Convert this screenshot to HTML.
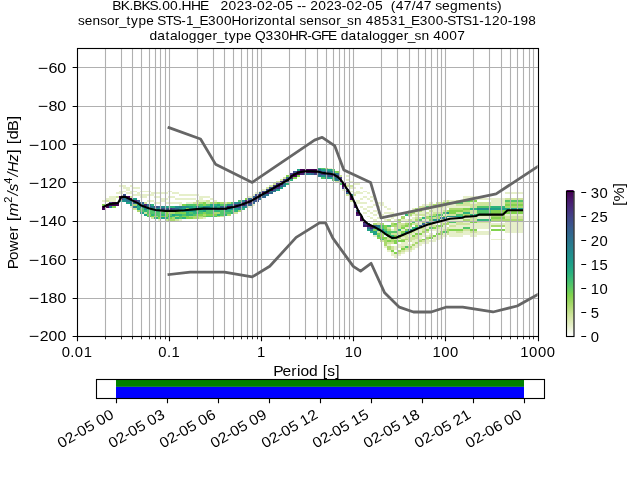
<!DOCTYPE html>
<html><head><meta charset="utf-8"><title>PPSD BK.BKS.00.HHE</title>
<style>html,body{margin:0;padding:0;background:#fff;}body{width:640px;height:480px;overflow:hidden;font-family:"Liberation Sans",sans-serif;}svg{display:block;will-change:transform;}</style></head>
<body>
<svg width="640" height="480" viewBox="0 0 640 480" font-family="'Liberation Sans', sans-serif" fill="#000">
<rect x="0" y="0" width="640" height="480" fill="#fff"/>
<g shape-rendering="crispEdges"><path fill="#440154" d="M102 208h4v2h-4zM102 206h4v2h-4zM106 206h3v2h-3zM106 204h3v2h-3zM109 204h3v2h-3zM112 204h4v2h-4zM112 202h4v2h-4zM116 204h3v2h-3zM116 202h3v2h-3zM119 196h4v2h-4zM123 196h3v2h-3zM126 196h4v2h-4zM130 198h3v2h-3zM259 194h3v2h-3zM262 192h4v2h-4zM269 189h4v2h-4zM280 183h3v2h-3zM283 181h3v2h-3zM286 179h4v2h-4zM290 175h3v2h-3zM293 173h4v2h-4zM297 173h3v2h-3zM297 171h3v2h-3zM300 171h4v2h-4zM300 169h4v2h-4zM304 171h3v2h-3zM304 169h3v2h-3zM307 171h4v2h-4zM307 169h4v2h-4zM311 171h3v2h-3zM311 169h3v2h-3zM314 171h4v2h-4zM314 169h4v2h-4zM339 179h3v2h-3zM342 185h4v2h-4zM346 191h3v1h-3zM349 198h4v2h-4zM349 196h4v2h-4zM353 204h3v2h-3zM356 212h4v2h-4zM360 219h3v2h-3zM363 221h4v2h-4zM367 225h3v2h-3z"/><path fill="#81d34d" d="M102 204h4v2h-4zM112 206h4v2h-4zM147 214h4v2h-4zM151 216h3v1h-3zM158 217h3v2h-3zM161 216h4v1h-4zM165 216h3v1h-3zM165 214h3v2h-3zM165 212h3v2h-3zM168 217h4v2h-4zM175 212h4v2h-4zM179 212h3v2h-3zM182 216h4v1h-4zM182 212h4v2h-4zM182 204h4v2h-4zM186 217h3v2h-3zM186 216h3v1h-3zM186 208h3v2h-3zM189 217h4v2h-4zM196 214h3v2h-3zM196 204h3v2h-3zM199 214h4v2h-4zM203 216h3v1h-3zM203 212h3v2h-3zM203 204h3v2h-3zM203 202h3v2h-3zM206 214h4v2h-4zM210 214h3v2h-3zM213 214h4v2h-4zM217 202h3v2h-3zM245 198h3v2h-3zM286 175h4v2h-4zM293 177h4v2h-4zM297 175h3v2h-3zM335 171h4v2h-4zM373 229h4v2h-4zM377 237h3v2h-3zM377 233h3v2h-3zM380 237h4v2h-4zM384 237h3v2h-3zM384 227h3v2h-3zM384 225h3v2h-3zM387 240h4v2h-4zM391 250h3v2h-3zM394 252h4v2h-4zM394 242h4v2h-4zM394 240h4v2h-4zM394 235h4v2h-4zM394 223h4v2h-4zM398 240h3v2h-3zM401 248h4v2h-4zM401 240h4v2h-4zM401 231h4v2h-4zM401 227h4v2h-4zM405 229h3v2h-3zM405 225h3v2h-3zM408 231h4v2h-4zM408 223h4v2h-4zM412 235h3v2h-3zM412 210h3v2h-3zM415 233h4v2h-4zM415 225h4v2h-4zM419 233h3v2h-3zM422 239h4v1h-4zM426 229h3v2h-3zM429 237h4v2h-4zM429 219h4v2h-4zM433 235h3v2h-3zM433 227h3v2h-3zM433 221h3v2h-3zM436 233h4v2h-4zM436 225h4v2h-4zM440 225h3v2h-3zM443 216h4v1h-4zM447 202h2v2h-2zM449 229h7v2h-7zM449 212h7v2h-7zM449 210h7v2h-7zM456 229h7v2h-7zM456 210h7v2h-7zM463 208h7v2h-7zM470 229h7v2h-7zM470 221h7v2h-7zM470 200h7v2h-7zM477 214h14v2h-14zM491 229h14v2h-14zM491 217h14v2h-14zM491 212h14v2h-14zM491 210h14v2h-14zM505 212h18v2h-18zM505 210h18v2h-18zM505 204h18v2h-18z"/><path fill="#e6efca" d="M102 200h4v2h-4zM106 198h3v2h-3zM109 200h3v2h-3zM109 198h3v2h-3zM109 196h3v2h-3zM112 200h4v2h-4zM112 198h4v2h-4zM112 196h4v2h-4zM116 192h3v2h-3zM119 192h4v2h-4zM119 191h4v1h-4zM119 185h4v2h-4zM123 191h3v1h-3zM123 187h3v2h-3zM123 185h3v2h-3zM126 192h4v2h-4zM126 189h4v2h-4zM126 187h4v2h-4zM130 206h3v2h-3zM130 192h3v2h-3zM130 191h3v1h-3zM130 185h3v2h-3zM133 194h4v2h-4zM133 191h4v1h-4zM133 187h4v2h-4zM137 194h3v2h-3zM137 192h3v2h-3zM137 187h3v2h-3zM140 196h4v2h-4zM140 194h4v2h-4zM140 191h4v1h-4zM144 196h3v2h-3zM144 194h3v2h-3zM144 191h3v1h-3zM147 200h4v2h-4zM147 194h4v2h-4zM147 191h4v1h-4zM151 200h3v2h-3zM151 194h3v2h-3zM151 192h3v2h-3zM154 202h4v2h-4zM154 196h4v2h-4zM154 192h4v2h-4zM158 219h3v2h-3zM158 202h3v2h-3zM158 196h3v2h-3zM158 192h3v2h-3zM161 200h4v2h-4zM161 198h4v2h-4zM161 192h4v2h-4zM165 202h3v2h-3zM165 198h3v2h-3zM165 192h3v2h-3zM168 202h4v2h-4zM168 196h4v2h-4zM168 191h4v1h-4zM172 202h3v2h-3zM172 196h3v2h-3zM172 192h3v2h-3zM175 202h4v2h-4zM175 198h4v2h-4zM175 192h4v2h-4zM179 219h3v2h-3zM179 204h3v2h-3zM179 202h3v2h-3zM179 198h3v2h-3zM179 194h3v2h-3zM182 198h4v2h-4zM182 194h4v2h-4zM186 202h3v2h-3zM186 198h3v2h-3zM186 194h3v2h-3zM189 202h4v2h-4zM189 198h4v2h-4zM189 194h4v2h-4zM193 198h3v2h-3zM193 194h3v2h-3zM196 194h3v2h-3zM199 200h4v2h-4zM199 198h4v2h-4zM199 196h4v2h-4zM203 217h3v2h-3zM203 200h3v2h-3zM203 196h3v2h-3zM206 196h4v2h-4zM210 198h3v2h-3zM213 200h4v2h-4zM248 206h4v2h-4zM248 196h4v2h-4zM252 204h3v2h-3zM252 194h3v2h-3zM255 192h4v2h-4zM259 191h3v1h-3zM262 189h4v2h-4zM328 168h4v1h-4zM342 189h4v2h-4zM346 183h3v2h-3zM346 179h3v2h-3zM346 175h3v2h-3zM349 191h4v1h-4zM349 187h4v2h-4zM349 181h4v2h-4zM353 192h3v2h-3zM353 187h3v2h-3zM353 183h3v2h-3zM356 202h4v2h-4zM356 200h4v2h-4zM356 192h4v2h-4zM356 191h4v1h-4zM356 183h4v2h-4zM360 206h3v2h-3zM360 202h3v2h-3zM360 198h3v2h-3zM360 192h3v2h-3zM360 187h3v2h-3zM363 212h4v2h-4zM363 208h4v2h-4zM363 202h4v2h-4zM363 196h4v2h-4zM363 191h4v1h-4zM367 216h3v1h-3zM367 210h3v2h-3zM367 206h3v2h-3zM367 198h3v2h-3zM367 192h3v2h-3zM370 217h3v2h-3zM370 212h3v2h-3zM370 206h3v2h-3zM370 200h3v2h-3zM370 196h3v2h-3zM373 235h4v2h-4zM373 219h4v2h-4zM373 214h4v2h-4zM373 210h4v2h-4zM373 204h4v2h-4zM373 198h4v2h-4zM377 221h3v2h-3zM377 217h3v2h-3zM377 212h3v2h-3zM377 206h3v2h-3zM377 202h3v2h-3zM380 217h4v2h-4zM380 214h4v2h-4zM380 204h4v2h-4zM380 202h4v2h-4zM384 246h3v2h-3zM384 219h3v2h-3zM384 216h3v1h-3zM384 212h3v2h-3zM384 206h3v2h-3zM387 250h4v2h-4zM387 244h4v2h-4zM387 212h4v2h-4zM387 208h4v2h-4zM391 254h3v2h-3zM391 252h3v2h-3zM391 229h3v2h-3zM391 221h3v2h-3zM391 217h3v2h-3zM391 212h3v2h-3zM394 256h4v2h-4zM394 254h4v2h-4zM394 248h4v2h-4zM394 246h4v2h-4zM394 219h4v2h-4zM394 216h4v1h-4zM398 254h3v2h-3zM398 246h3v2h-3zM398 244h3v2h-3zM398 239h3v1h-3zM401 252h4v2h-4zM401 244h4v2h-4zM401 242h4v2h-4zM401 237h4v2h-4zM401 229h4v2h-4zM401 219h4v2h-4zM405 250h3v2h-3zM405 244h3v2h-3zM405 242h3v2h-3zM405 240h3v2h-3zM405 233h3v2h-3zM405 227h3v2h-3zM405 221h3v2h-3zM405 219h3v2h-3zM408 250h4v2h-4zM408 244h4v2h-4zM408 235h4v2h-4zM408 227h4v2h-4zM408 221h4v2h-4zM408 216h4v1h-4zM408 210h4v2h-4zM412 248h3v2h-3zM412 246h3v2h-3zM412 242h3v2h-3zM412 240h3v2h-3zM412 233h3v2h-3zM412 219h3v2h-3zM412 217h3v2h-3zM412 214h3v2h-3zM412 208h3v2h-3zM415 246h4v2h-4zM415 244h4v2h-4zM415 240h4v2h-4zM415 239h4v1h-4zM415 231h4v2h-4zM415 221h4v2h-4zM415 216h4v1h-4zM415 212h4v2h-4zM419 244h3v2h-3zM419 242h3v2h-3zM419 237h3v2h-3zM419 235h3v2h-3zM419 231h3v2h-3zM419 229h3v2h-3zM419 223h3v2h-3zM419 221h3v2h-3zM419 212h3v2h-3zM422 242h4v2h-4zM422 235h4v2h-4zM422 233h4v2h-4zM422 225h4v2h-4zM422 219h4v2h-4zM422 216h4v1h-4zM422 212h4v2h-4zM422 210h4v2h-4zM422 204h4v2h-4zM426 242h3v2h-3zM426 240h3v2h-3zM426 235h3v2h-3zM426 227h3v2h-3zM426 225h3v2h-3zM426 219h3v2h-3zM426 214h3v2h-3zM426 204h3v2h-3zM429 240h4v2h-4zM429 233h4v2h-4zM429 229h4v2h-4zM429 212h4v2h-4zM429 208h4v2h-4zM429 202h4v2h-4zM433 240h3v2h-3zM433 239h3v1h-3zM433 237h3v2h-3zM433 229h3v2h-3zM433 223h3v2h-3zM433 210h3v2h-3zM433 208h3v2h-3zM436 239h4v1h-4zM436 237h4v2h-4zM436 235h4v2h-4zM436 231h4v2h-4zM436 229h4v2h-4zM436 210h4v2h-4zM436 208h4v2h-4zM440 237h3v2h-3zM440 235h3v2h-3zM440 229h3v2h-3zM440 227h3v2h-3zM440 219h3v2h-3zM440 216h3v1h-3zM440 210h3v2h-3zM440 208h3v2h-3zM443 235h4v2h-4zM443 233h4v2h-4zM443 227h4v2h-4zM443 225h4v2h-4zM443 221h4v2h-4zM443 214h4v2h-4zM443 208h4v2h-4zM443 206h4v2h-4zM443 200h4v2h-4zM447 219h2v2h-2zM447 217h2v2h-2zM447 206h2v2h-2zM447 204h2v2h-2zM449 235h7v2h-7zM449 233h7v2h-7zM449 231h7v2h-7zM449 227h7v2h-7zM449 223h7v2h-7zM449 219h7v2h-7zM449 217h7v2h-7zM449 206h7v2h-7zM449 204h7v2h-7zM449 200h7v2h-7zM456 235h7v2h-7zM456 233h7v2h-7zM456 227h7v2h-7zM456 225h7v2h-7zM456 219h7v2h-7zM456 217h7v2h-7zM456 206h7v2h-7zM463 233h7v2h-7zM463 231h7v2h-7zM463 225h7v2h-7zM463 221h7v2h-7zM463 217h7v2h-7zM463 206h7v2h-7zM463 198h7v2h-7zM463 196h7v2h-7zM470 235h7v2h-7zM470 233h7v2h-7zM470 227h7v2h-7zM470 225h7v2h-7zM470 223h7v2h-7zM470 216h7v1h-7zM470 202h7v2h-7zM470 198h7v2h-7zM470 196h7v2h-7zM477 233h14v2h-14zM477 231h14v2h-14zM477 227h14v2h-14zM477 225h14v2h-14zM477 223h14v2h-14zM477 217h14v2h-14zM477 216h14v1h-14zM477 198h14v2h-14zM491 239h14v1h-14zM491 223h14v2h-14zM491 204h14v2h-14zM491 202h14v2h-14zM491 200h14v2h-14zM491 198h14v2h-14zM505 231h18v2h-18zM505 229h18v2h-18zM505 227h18v2h-18zM505 225h18v2h-18zM505 223h18v2h-18zM505 221h18v2h-18zM505 214h18v2h-18zM505 192h18v2h-18z"/><path fill="#cfe49c" d="M106 200h3v2h-3zM116 196h3v2h-3zM130 196h3v2h-3zM133 208h4v2h-4zM144 212h3v2h-3zM144 202h3v2h-3zM151 217h3v2h-3zM165 219h3v2h-3zM175 219h4v2h-4zM193 202h3v2h-3zM196 202h3v2h-3zM196 200h3v2h-3zM199 217h4v2h-4zM206 202h4v2h-4zM206 200h4v2h-4zM220 216h4v1h-4zM224 202h3v2h-3zM234 212h4v2h-4zM266 187h3v2h-3zM269 185h4v2h-4zM273 183h3v2h-3zM276 181h4v2h-4zM280 179h3v2h-3zM283 177h3v2h-3zM335 181h4v2h-4zM339 175h3v2h-3zM346 194h3v2h-3zM346 185h3v2h-3zM349 200h4v2h-4zM349 185h4v2h-4zM353 194h3v2h-3zM377 231h3v2h-3zM377 223h3v2h-3zM380 240h4v2h-4zM387 242h4v2h-4zM387 239h4v1h-4zM387 237h4v2h-4zM387 227h4v2h-4zM387 219h4v2h-4zM391 248h3v2h-3zM391 246h3v2h-3zM391 242h3v2h-3zM391 233h3v2h-3zM394 239h4v1h-4zM394 233h4v2h-4zM394 229h4v2h-4zM394 227h4v2h-4zM398 252h3v2h-3zM398 233h3v2h-3zM398 231h3v2h-3zM398 227h3v2h-3zM398 225h3v2h-3zM398 223h3v2h-3zM401 250h4v2h-4zM401 246h4v2h-4zM401 235h4v2h-4zM401 223h4v2h-4zM405 248h3v2h-3zM405 237h3v2h-3zM405 235h3v2h-3zM408 248h4v2h-4zM408 240h4v2h-4zM408 239h4v1h-4zM408 237h4v2h-4zM408 233h4v2h-4zM408 219h4v2h-4zM412 239h3v1h-3zM412 237h3v2h-3zM412 231h3v2h-3zM412 223h3v2h-3zM415 237h4v2h-4zM415 235h4v2h-4zM415 229h4v2h-4zM415 223h4v2h-4zM415 217h4v2h-4zM415 214h4v2h-4zM419 239h3v1h-3zM419 217h3v2h-3zM419 214h3v2h-3zM419 208h3v2h-3zM419 206h3v2h-3zM422 240h4v2h-4zM422 229h4v2h-4zM422 227h4v2h-4zM422 214h4v2h-4zM422 208h4v2h-4zM422 206h4v2h-4zM426 239h3v1h-3zM426 231h3v2h-3zM426 212h3v2h-3zM426 208h3v2h-3zM429 235h4v2h-4zM429 225h4v2h-4zM429 223h4v2h-4zM429 214h4v2h-4zM429 210h4v2h-4zM429 206h4v2h-4zM429 204h4v2h-4zM433 225h3v2h-3zM433 217h3v2h-3zM433 212h3v2h-3zM436 227h4v2h-4zM436 221h4v2h-4zM436 212h4v2h-4zM436 206h4v2h-4zM436 202h4v2h-4zM440 223h3v2h-3zM440 221h3v2h-3zM440 212h3v2h-3zM440 206h3v2h-3zM440 202h3v2h-3zM443 229h4v2h-4zM443 219h4v2h-4zM443 210h4v2h-4zM447 233h2v2h-2zM447 227h2v2h-2zM447 214h2v2h-2zM447 200h2v2h-2zM449 225h7v2h-7zM449 214h7v2h-7zM456 231h7v2h-7zM456 223h7v2h-7zM456 221h7v2h-7zM456 212h7v2h-7zM456 204h7v2h-7zM456 200h7v2h-7zM463 229h7v2h-7zM463 223h7v2h-7zM463 216h7v1h-7zM463 204h7v2h-7zM463 202h7v2h-7zM470 231h7v2h-7zM470 219h7v2h-7zM470 217h7v2h-7zM470 212h7v2h-7zM470 210h7v2h-7zM470 206h7v2h-7zM470 204h7v2h-7zM477 221h14v2h-14zM477 204h14v2h-14zM477 202h14v2h-14zM505 217h18v2h-18zM505 216h18v1h-18zM505 198h18v2h-18z"/><path fill="#297a8e" d="M109 206h3v2h-3zM123 198h3v2h-3zM126 200h4v2h-4zM130 202h3v2h-3zM130 200h3v2h-3zM133 206h4v2h-4zM140 204h4v2h-4zM147 204h4v2h-4zM151 206h3v2h-3zM179 206h3v2h-3zM196 206h3v2h-3zM224 206h3v2h-3zM231 204h3v2h-3zM238 202h3v2h-3zM259 198h3v2h-3zM266 194h3v2h-3zM269 191h4v1h-4zM273 191h3v1h-3zM283 183h3v2h-3zM304 173h3v2h-3zM307 173h4v2h-4zM318 175h3v2h-3zM325 175h3v2h-3zM328 171h4v2h-4zM335 179h4v2h-4zM335 173h4v2h-4zM370 229h3v2h-3zM377 225h3v2h-3zM398 235h3v2h-3zM440 217h3v2h-3zM443 217h4v2h-4z"/><path fill="#443a83" d="M109 202h3v2h-3zM119 198h4v2h-4zM168 208h4v2h-4zM217 208h3v2h-3zM220 208h4v2h-4zM234 206h4v2h-4zM234 204h4v2h-4zM241 202h4v2h-4zM248 202h4v2h-4zM255 198h4v2h-4zM255 196h4v2h-4zM259 196h3v2h-3zM266 191h3v1h-3zM273 185h3v2h-3zM276 187h4v2h-4zM276 183h4v2h-4zM280 181h3v2h-3zM283 179h3v2h-3zM290 173h3v2h-3zM314 173h4v2h-4zM318 171h3v2h-3zM321 173h4v2h-4zM328 173h4v2h-4zM332 175h3v2h-3zM339 177h3v2h-3zM342 187h4v2h-4zM353 202h3v2h-3zM363 223h4v2h-4z"/><path fill="#1fa188" d="M119 200h4v2h-4zM126 202h4v2h-4zM130 204h3v2h-3zM133 198h4v2h-4zM137 208h3v2h-3zM137 204h3v2h-3zM140 212h4v2h-4zM144 214h3v2h-3zM151 208h3v2h-3zM161 217h4v2h-4zM165 210h3v2h-3zM165 206h3v2h-3zM172 214h3v2h-3zM182 210h4v2h-4zM182 208h4v2h-4zM186 210h3v2h-3zM189 210h4v2h-4zM189 208h4v2h-4zM189 206h4v2h-4zM193 210h3v2h-3zM203 210h3v2h-3zM210 206h3v2h-3zM210 204h3v2h-3zM217 204h3v2h-3zM234 208h4v2h-4zM276 189h4v2h-4zM280 187h3v2h-3zM297 169h3v2h-3zM321 169h4v2h-4zM325 177h3v2h-3zM325 169h3v2h-3zM328 177h4v2h-4zM328 169h4v2h-4zM367 229h3v2h-3zM367 223h3v2h-3zM373 233h4v2h-4zM373 231h4v2h-4zM384 231h3v2h-3zM415 227h4v2h-4zM456 216h7v1h-7zM491 208h14v2h-14zM505 208h18v2h-18z"/><path fill="#218e8d" d="M123 200h3v2h-3zM140 206h4v2h-4zM144 208h3v2h-3zM154 208h4v2h-4zM158 208h3v2h-3zM161 206h4v2h-4zM175 206h4v2h-4zM179 208h3v2h-3zM182 206h4v2h-4zM186 206h3v2h-3zM193 208h3v2h-3zM196 208h3v2h-3zM203 206h3v2h-3zM206 206h4v2h-4zM213 206h4v2h-4zM227 208h4v2h-4zM227 204h4v2h-4zM231 208h3v2h-3zM234 202h4v2h-4zM238 208h3v2h-3zM241 206h4v2h-4zM241 200h4v2h-4zM245 206h3v2h-3zM283 185h3v2h-3zM321 175h4v2h-4zM332 171h3v2h-3zM349 194h4v2h-4zM377 229h3v2h-3zM377 227h3v2h-3zM380 229h4v2h-4zM405 231h3v2h-3zM408 229h4v2h-4zM433 219h3v2h-3zM436 219h4v2h-4zM447 216h2v1h-2zM447 212h2v2h-2zM449 216h7v1h-7zM477 208h14v2h-14z"/><path fill="#3b518b" d="M123 194h3v2h-3zM137 200h3v2h-3zM154 206h4v2h-4zM161 208h4v2h-4zM172 208h3v2h-3zM213 208h4v2h-4zM238 206h3v2h-3zM238 204h3v2h-3zM245 204h3v2h-3zM245 202h3v2h-3zM252 200h3v2h-3zM255 200h4v2h-4zM255 194h4v2h-4zM262 191h4v1h-4zM266 189h3v2h-3zM269 187h4v2h-4zM273 189h3v2h-3zM280 185h3v2h-3zM293 171h4v2h-4zM325 173h3v2h-3zM328 175h4v2h-4zM332 173h3v2h-3z"/><path fill="#31678e" d="M126 198h4v2h-4zM133 202h4v2h-4zM137 202h3v2h-3zM140 202h4v2h-4zM147 206h4v2h-4zM158 206h3v2h-3zM165 208h3v2h-3zM175 208h4v2h-4zM199 208h4v2h-4zM203 208h3v2h-3zM206 208h4v2h-4zM210 208h3v2h-3zM220 206h4v2h-4zM248 204h4v2h-4zM248 198h4v2h-4zM252 202h3v2h-3zM252 196h3v2h-3zM259 192h3v2h-3zM262 196h4v2h-4zM262 194h4v2h-4zM269 192h4v2h-4zM286 181h4v2h-4zM286 177h4v2h-4zM311 173h3v2h-3zM318 173h3v2h-3zM318 169h3v2h-3zM321 171h4v2h-4zM325 171h3v2h-3zM335 177h4v2h-4zM346 192h3v2h-3zM346 189h3v2h-3zM356 210h4v2h-4zM367 227h3v2h-3zM373 227h4v2h-4zM373 225h4v2h-4zM419 225h3v2h-3zM422 223h4v2h-4zM426 221h3v2h-3z"/><path fill="#aad96e" d="M133 204h4v2h-4zM137 210h3v2h-3zM154 216h4v1h-4zM161 210h4v2h-4zM168 219h4v2h-4zM168 212h4v2h-4zM172 219h3v2h-3zM172 217h3v2h-3zM172 212h3v2h-3zM175 216h4v1h-4zM189 216h4v1h-4zM193 217h3v2h-3zM193 216h3v1h-3zM196 217h3v2h-3zM196 216h3v1h-3zM199 216h4v1h-4zM199 202h4v2h-4zM203 214h3v2h-3zM210 202h3v2h-3zM213 212h4v2h-4zM213 202h4v2h-4zM217 216h3v1h-3zM217 212h3v2h-3zM220 202h4v2h-4zM227 214h4v2h-4zM227 202h4v2h-4zM238 210h3v2h-3zM325 168h3v1h-3zM373 223h4v2h-4zM380 235h4v2h-4zM380 233h4v2h-4zM380 223h4v2h-4zM384 244h3v2h-3zM384 242h3v2h-3zM384 240h3v2h-3zM384 239h3v1h-3zM387 248h4v2h-4zM387 246h4v2h-4zM387 229h4v2h-4zM391 240h3v2h-3zM391 239h3v1h-3zM391 225h3v2h-3zM391 223h3v2h-3zM394 225h4v2h-4zM398 250h3v2h-3zM398 237h3v2h-3zM398 221h3v2h-3zM398 219h3v2h-3zM401 239h4v1h-4zM401 225h4v2h-4zM401 217h4v2h-4zM401 216h4v1h-4zM405 239h3v1h-3zM405 223h3v2h-3zM408 246h4v2h-4zM408 225h4v2h-4zM408 214h4v2h-4zM408 212h4v2h-4zM412 244h3v2h-3zM412 212h3v2h-3zM415 242h4v2h-4zM415 219h4v2h-4zM415 210h4v2h-4zM415 208h4v2h-4zM419 240h3v2h-3zM419 227h3v2h-3zM419 210h3v2h-3zM422 231h4v2h-4zM422 221h4v2h-4zM426 237h3v2h-3zM426 223h3v2h-3zM426 217h3v2h-3zM426 216h3v1h-3zM429 217h4v2h-4zM433 214h3v2h-3zM433 206h3v2h-3zM433 204h3v2h-3zM436 217h4v2h-4zM436 216h4v1h-4zM436 204h4v2h-4zM440 233h3v2h-3zM440 231h3v2h-3zM443 223h4v2h-4zM443 204h4v2h-4zM443 202h4v2h-4zM447 231h2v2h-2zM447 229h2v2h-2zM447 223h2v2h-2zM447 221h2v2h-2zM447 210h2v2h-2zM449 208h7v2h-7zM456 208h7v2h-7zM463 219h7v2h-7zM463 214h7v2h-7zM463 210h7v2h-7zM491 225h14v2h-14zM491 219h14v2h-14zM491 216h14v1h-14zM491 214h14v2h-14zM505 219h18v2h-18zM505 206h18v2h-18zM505 202h18v2h-18z"/><path fill="#482071" d="M133 200h4v2h-4zM144 204h3v2h-3zM241 204h4v2h-4zM245 200h3v2h-3zM248 200h4v2h-4zM266 192h3v2h-3zM273 187h3v2h-3zM290 177h3v2h-3zM300 173h4v2h-4zM335 175h4v2h-4zM339 181h3v2h-3zM353 206h3v2h-3zM356 214h4v2h-4zM360 216h3v1h-3zM363 225h4v2h-4zM370 227h3v2h-3z"/><path fill="#2fb47c" d="M137 206h3v2h-3zM144 210h3v2h-3zM144 206h3v2h-3zM147 208h4v2h-4zM151 214h3v2h-3zM151 204h3v2h-3zM154 217h4v2h-4zM154 210h4v2h-4zM158 210h3v2h-3zM161 214h4v2h-4zM165 217h3v2h-3zM168 216h4v1h-4zM168 206h4v2h-4zM172 210h3v2h-3zM172 206h3v2h-3zM175 217h4v2h-4zM175 214h4v2h-4zM179 214h3v2h-3zM182 217h4v2h-4zM186 214h3v2h-3zM186 212h3v2h-3zM189 214h4v2h-4zM193 212h3v2h-3zM193 206h3v2h-3zM196 212h3v2h-3zM199 210h4v2h-4zM199 206h4v2h-4zM213 210h4v2h-4zM213 204h4v2h-4zM217 214h3v2h-3zM217 210h3v2h-3zM217 206h3v2h-3zM224 214h3v2h-3zM224 210h3v2h-3zM227 210h4v2h-4zM231 212h3v2h-3zM234 210h4v2h-4zM241 208h4v2h-4zM286 183h4v2h-4zM290 179h3v2h-3zM318 168h3v1h-3zM332 177h3v2h-3zM370 231h3v2h-3zM384 233h3v2h-3zM391 237h3v2h-3zM391 235h3v2h-3zM398 229h3v2h-3zM405 214h3v2h-3zM412 227h3v2h-3zM422 217h4v2h-4zM429 221h4v2h-4zM463 212h7v2h-7zM470 214h7v2h-7zM470 208h7v2h-7zM477 219h14v2h-14zM491 206h14v2h-14z"/><path fill="#52c569" d="M140 210h4v2h-4zM140 208h4v2h-4zM147 216h4v1h-4zM147 212h4v2h-4zM147 210h4v2h-4zM151 212h3v2h-3zM151 210h3v2h-3zM154 214h4v2h-4zM154 212h4v2h-4zM158 216h3v1h-3zM158 214h3v2h-3zM158 212h3v2h-3zM161 212h4v2h-4zM168 214h4v2h-4zM168 210h4v2h-4zM172 216h3v1h-3zM175 210h4v2h-4zM179 217h3v2h-3zM179 216h3v1h-3zM179 210h3v2h-3zM182 214h4v2h-4zM186 204h3v2h-3zM189 212h4v2h-4zM189 204h4v2h-4zM193 214h3v2h-3zM193 204h3v2h-3zM196 210h3v2h-3zM199 212h4v2h-4zM199 204h4v2h-4zM206 216h4v1h-4zM206 212h4v2h-4zM206 210h4v2h-4zM206 204h4v2h-4zM210 216h3v1h-3zM210 212h3v2h-3zM210 210h3v2h-3zM213 216h4v1h-4zM220 214h4v2h-4zM220 212h4v2h-4zM220 210h4v2h-4zM220 204h4v2h-4zM224 212h3v2h-3zM224 204h3v2h-3zM227 212h4v2h-4zM231 210h3v2h-3zM231 202h3v2h-3zM238 200h3v2h-3zM321 177h4v2h-4zM321 168h4v1h-4zM332 179h3v2h-3zM332 169h3v2h-3zM339 183h3v2h-3zM377 235h3v2h-3zM380 239h4v1h-4zM380 231h4v2h-4zM380 227h4v2h-4zM380 225h4v2h-4zM384 229h3v2h-3zM387 235h4v2h-4zM387 233h4v2h-4zM387 231h4v2h-4zM387 225h4v2h-4zM391 231h3v2h-3zM394 237h4v2h-4zM394 231h4v2h-4zM401 233h4v2h-4zM405 246h3v2h-3zM412 229h3v2h-3zM412 221h3v2h-3zM419 219h3v2h-3zM426 206h3v2h-3zM429 227h4v2h-4zM429 216h4v1h-4zM433 216h3v1h-3zM436 214h4v2h-4zM440 214h3v2h-3zM440 204h3v2h-3zM443 231h4v2h-4zM443 212h4v2h-4zM449 221h7v2h-7zM449 202h7v2h-7zM456 214h7v2h-7zM456 202h7v2h-7zM463 227h7v2h-7zM463 200h7v2h-7zM477 212h14v2h-14zM477 210h14v2h-14zM477 206h14v2h-14zM505 200h18v2h-18z"/><path fill="#450457" d="M224 208h3v2h-3zM227 206h4v2h-4zM231 206h3v2h-3zM252 198h3v2h-3zM276 185h4v2h-4zM293 175h4v2h-4zM342 183h4v2h-4zM360 217h3v2h-3zM370 225h3v2h-3z"/></g>
<path d="M105.5 48.5V336.5M121.5 48.5V336.5M132.5 48.5V336.5M141.5 48.5V336.5M149.5 48.5V336.5M155.5 48.5V336.5M160.5 48.5V336.5M165.5 48.5V336.5M169.5 48.5V336.5M197.5 48.5V336.5M213.5 48.5V336.5M224.5 48.5V336.5M233.5 48.5V336.5M241.5 48.5V336.5M247.5 48.5V336.5M252.5 48.5V336.5M257.5 48.5V336.5M261.5 48.5V336.5M289.5 48.5V336.5M305.5 48.5V336.5M317.5 48.5V336.5M326.5 48.5V336.5M333.5 48.5V336.5M339.5 48.5V336.5M344.5 48.5V336.5M349.5 48.5V336.5M353.5 48.5V336.5M381.5 48.5V336.5M397.5 48.5V336.5M409.5 48.5V336.5M418.5 48.5V336.5M425.5 48.5V336.5M431.5 48.5V336.5M437.5 48.5V336.5M441.5 48.5V336.5M445.5 48.5V336.5M473.5 48.5V336.5M489.5 48.5V336.5M501.5 48.5V336.5M510.5 48.5V336.5M517.5 48.5V336.5M523.5 48.5V336.5M529.5 48.5V336.5M533.5 48.5V336.5M77.5 298.5H538.5M77.5 259.5H538.5M77.5 221.5H538.5M77.5 182.5H538.5M77.5 144.5H538.5M77.5 106.5H538.5M77.5 67.5H538.5" stroke="#b0b0b0" stroke-width="1.11" fill="none"/>
<clipPath id="c"><rect x="76.8" y="48" width="460.8" height="288"/></clipPath>
<g clip-path="url(#c)" fill="none" stroke-linejoin="round" stroke-linecap="square">
<polyline points="168.96,127.68 200.52,139.02 215.51,164.16 252.19,182.40 314.55,140.16 322.20,137.28 334.79,145.92 343.85,169.91 370.56,182.40 381.02,217.91 496.13,193.93 537.60,166.60" stroke="#666666" stroke-width="2.78"/>
<polyline points="168.96,274.56 190.20,272.06 224.45,272.06 252.19,276.87 269.73,266.30 296.16,237.40 319.50,222.91 325.54,222.90 332.83,238.08 353.28,266.40 360.58,271.19 371.08,263.29 384.66,292.81 399.33,307.19 413.48,312.00 431.16,312.00 445.84,307.20 462.72,307.18 492.98,311.98 517.15,306.01 537.60,294.68" stroke="#666666" stroke-width="2.78"/>
<polyline points="103.90,206.60 108.90,204.25 118.00,203.00 121.40,196.90 125.20,196.90 135.00,201.90 138.00,203.10 141.25,205.60 149.40,208.40 155.60,210.00 165.00,210.90 175.00,210.90 184.50,210.30 197.00,209.10 203.25,208.60 212.00,208.80 225.00,208.75 233.75,206.90 241.25,204.70 250.00,201.60 288.00,179.90 292.25,175.60 298.50,172.50 304.75,171.25 311.00,171.25 317.25,171.60 322.25,172.80 326.00,173.40 330.10,173.75 334.50,174.80 338.25,177.30 342.00,181.40 345.75,187.00 348.90,191.70 351.25,195.40 355.60,204.75 358.75,212.00 361.25,215.40 363.10,219.50 367.50,223.60 373.75,226.70 381.25,230.75 386.25,234.50 391.90,237.90 396.10,237.75 409.25,232.30 419.25,227.90 428.00,224.50 437.50,221.90 450.00,218.75 462.50,217.80 465.00,216.60 470.00,216.50 476.00,216.00 479.00,214.60 503.00,214.60 507.50,210.25 522.00,210.25" stroke="#000" stroke-width="2.08"/>
</g>
<rect x="77.5" y="48.5" width="461" height="288" fill="none" stroke="#000" stroke-width="1.11"/>
<path d="M77.5 336.5v4.86M169.5 336.5v4.86M261.5 336.5v4.86M353.5 336.5v4.86M445.5 336.5v4.86M538.5 336.5v4.86M77.5 336.5h-4.86M77.5 298.5h-4.86M77.5 259.5h-4.86M77.5 221.5h-4.86M77.5 182.5h-4.86M77.5 144.5h-4.86M77.5 106.5h-4.86M77.5 67.5h-4.86" stroke="#000" stroke-width="1.11" fill="none"/>
<path d="M105.5 336.5v2.78M121.5 336.5v2.78M132.5 336.5v2.78M141.5 336.5v2.78M149.5 336.5v2.78M155.5 336.5v2.78M160.5 336.5v2.78M165.5 336.5v2.78M197.5 336.5v2.78M213.5 336.5v2.78M224.5 336.5v2.78M233.5 336.5v2.78M241.5 336.5v2.78M247.5 336.5v2.78M252.5 336.5v2.78M257.5 336.5v2.78M289.5 336.5v2.78M305.5 336.5v2.78M317.5 336.5v2.78M326.5 336.5v2.78M333.5 336.5v2.78M339.5 336.5v2.78M344.5 336.5v2.78M349.5 336.5v2.78M381.5 336.5v2.78M397.5 336.5v2.78M409.5 336.5v2.78M418.5 336.5v2.78M425.5 336.5v2.78M431.5 336.5v2.78M437.5 336.5v2.78M441.5 336.5v2.78M473.5 336.5v2.78M489.5 336.5v2.78M501.5 336.5v2.78M510.5 336.5v2.78M517.5 336.5v2.78M523.5 336.5v2.78M529.5 336.5v2.78M533.5 336.5v2.78" stroke="#000" stroke-width="0.83" fill="none"/>
<text transform="translate(0,9.67) scale(1.0498,1)" x="106.93 114.92 123.28 126.69 134.68 142.36 150.60 154.44 162.02 169.54 172.97 181.93 190.53" y="0" font-size="13.20">BK.BKS.00.HHE</text><text transform="translate(0,9.67) scale(1.0498,1)" x="210.16 217.74 225.31 232.89 240.30 244.76 252.34 259.75 264.21 271.78" y="0" font-size="13.20">2023-02-05</text><text transform="translate(0,9.67) scale(1.0498,1)" x="282.98 287.27" y="0" font-size="13.20">--</text><text transform="translate(0,9.67) scale(1.0498,1)" x="295.52 303.10 310.67 318.25 325.66 330.12 337.70 345.10 349.57 357.14" y="0" font-size="13.20">2023-02-05</text><text transform="translate(0,9.67) scale(1.0498,1)" x="372.29 376.93 384.51 392.14 396.09 403.67" y="0" font-size="13.20">(47/47</text><text transform="translate(0,9.67) scale(1.0498,1)" x="414.71 421.11 428.55 436.30 447.59 455.03 462.97 466.94 473.47" y="0" font-size="13.20">segments)</text>
<text transform="translate(0,24.67) scale(1.0301,1)" x="75.82 82.34 89.92 97.30 103.80 111.48 115.53 122.78 127.29 134.36 141.94" y="0" font-size="13.20">sensor_type</text><text transform="translate(0,24.67) scale(1.0301,1)" x="152.65 160.58 167.77 176.01 180.59 187.48 193.62 202.04 209.76 217.48 224.81 234.18 241.86 246.77 249.81 256.33 263.89 271.95 276.21 283.82" y="0" font-size="13.20">STS-1_E300Horizontal</text><text transform="translate(0,24.67) scale(1.0301,1)" x="290.69 297.21 304.79 312.17 318.67 326.35 330.40 336.97 343.61" y="0" font-size="13.20">sensor_sn</text><text transform="translate(0,24.67) scale(1.0301,1)" x="355.17 362.89 370.61 378.33 386.05 392.94 399.08 407.50 415.22 422.94 430.47 434.30 442.23 449.42 457.86 465.38 469.96 477.68 485.40 492.92 497.50 505.22 512.94" y="0" font-size="13.20">48531_E300-STS1-120-198</text>
<text transform="translate(0,39.67) scale(1.0451,1)" x="143.08 150.54 158.39 162.56 170.09 173.21 180.66 188.26 195.73 203.34 207.32 214.49 218.91 225.87 233.35" y="0" font-size="13.20">datalogger_type</text><text transform="translate(0,39.67) scale(1.0451,1)" x="244.08 254.05 261.66 269.27 276.48 285.13 294.01 297.87 307.04 313.89" y="0" font-size="13.20">Q330HR-GFE</text><text transform="translate(0,39.67) scale(1.0451,1)" x="326.00 333.46 341.31 345.48 353.01 356.13 363.58 371.18 378.65 386.26 390.24 396.72 403.25" y="0" font-size="13.20">datalogger_sn</text><text transform="translate(0,39.67) scale(1.0451,1)" x="414.65 422.26 429.87 437.48" y="0" font-size="13.20">4007</text>
<text transform="translate(0,356.90) scale(1.0174,1)" x="60.63 69.14 73.59 82.22" y="0" font-size="14.60">0.01</text>
<text transform="translate(0,356.90) scale(1.0174,1)" x="155.54 164.05 168.49" y="0" font-size="14.60">0.1</text>
<text transform="translate(0,356.90) scale(1.0174,1)" x="252.61" y="0" font-size="14.60">1</text>
<text transform="translate(0,356.90) scale(1.0174,1)" x="338.88 347.51" y="0" font-size="14.60">10</text>
<text transform="translate(0,356.90) scale(1.0174,1)" x="425.14 433.78 442.42" y="0" font-size="14.60">100</text>
<text transform="translate(0,356.90) scale(1.0174,1)" x="511.41 520.05 528.69 537.33" y="0" font-size="14.60">1000</text>
<text transform="translate(0,376.00) scale(1.0680,1)" x="255.80 264.48 272.75 278.01 281.33 289.39" y="0" font-size="14.60">Period</text><text transform="translate(0,376.00) scale(1.0680,1)" x="302.16 306.43 313.94" y="0" font-size="14.60">[s]</text>
<text transform="translate(0,341.00) scale(1.2200,1)" x="23.65" y="0" font-size="14.60">−</text><text transform="translate(0,341.00) scale(1.0844,1)" x="36.73 44.83 52.94" y="0" font-size="14.60">200</text>
<text transform="translate(0,303.00) scale(1.2200,1)" x="23.65" y="0" font-size="14.60">−</text><text transform="translate(0,303.00) scale(1.0844,1)" x="36.73 44.83 52.94" y="0" font-size="14.60">180</text>
<text transform="translate(0,265.00) scale(1.2200,1)" x="23.65" y="0" font-size="14.60">−</text><text transform="translate(0,265.00) scale(1.0844,1)" x="36.73 44.83 52.94" y="0" font-size="14.60">160</text>
<text transform="translate(0,226.00) scale(1.2200,1)" x="23.65" y="0" font-size="14.60">−</text><text transform="translate(0,226.00) scale(1.0844,1)" x="36.73 44.83 52.94" y="0" font-size="14.60">140</text>
<text transform="translate(0,188.00) scale(1.2200,1)" x="23.65" y="0" font-size="14.60">−</text><text transform="translate(0,188.00) scale(1.0844,1)" x="36.73 44.83 52.94" y="0" font-size="14.60">120</text>
<text transform="translate(0,150.00) scale(1.2200,1)" x="23.65" y="0" font-size="14.60">−</text><text transform="translate(0,150.00) scale(1.0844,1)" x="36.73 44.83 52.94" y="0" font-size="14.60">100</text>
<text transform="translate(0,111.00) scale(1.2200,1)" x="30.85" y="0" font-size="14.60">−</text><text transform="translate(0,111.00) scale(1.1064,1)" x="43.86 51.80" y="0" font-size="14.60">80</text>
<text transform="translate(0,73.00) scale(1.2200,1)" x="30.85" y="0" font-size="14.60">−</text><text transform="translate(0,73.00) scale(1.1064,1)" x="43.86 51.80" y="0" font-size="14.60">60</text>
<g transform="translate(17.6,268.3) rotate(-90)">
<text transform="translate(0,0.00) scale(1.0485,1)" x="-0.90 7.91 16.12 26.77 35.16" y="0" font-size="14.60">Power</text><text transform="translate(0,0.00) scale(1.0485,1)" x="45.03" y="0" font-size="14.60">[</text>
<text transform="translate(0,0.00) scale(1.1063,1)" x="47.03" y="0" font-size="14.60" font-style="italic">m</text>
<text transform="translate(0,-5.20) scale(1.0823,1)" x="60.51" y="0" font-size="10.22">2</text>
<text transform="translate(0,0.00) scale(1.0435,1)" x="69.82 73.87" y="0" font-size="14.60" font-style="italic">/s</text>
<text transform="translate(0,-5.20) scale(1.0823,1)" x="78.07" y="0" font-size="10.22">4</text>
<text transform="translate(0,0.00) scale(1.0178,1)" x="90.29 94.44 104.73" y="0" font-size="14.60" font-style="italic">/Hz</text>
<text transform="translate(0,0.00) scale(1.1460,1)" x="99.74" y="0" font-size="14.60">]</text><text transform="translate(0,0.00) scale(1.1460,1)" x="108.28 112.42 119.57 128.90" y="0" font-size="14.60">[dB]</text>
</g>
<defs><linearGradient id="cb" x1="0" y1="1" x2="0" y2="0">
<stop offset="0.0000" stop-color="#ffffff"/>
<stop offset="0.0167" stop-color="#f9fbf3"/>
<stop offset="0.0333" stop-color="#f3f7e6"/>
<stop offset="0.0500" stop-color="#edf4da"/>
<stop offset="0.0667" stop-color="#e8f0cd"/>
<stop offset="0.0833" stop-color="#e2edc2"/>
<stop offset="0.1000" stop-color="#ddebb7"/>
<stop offset="0.1167" stop-color="#d7e8ac"/>
<stop offset="0.1333" stop-color="#d2e5a2"/>
<stop offset="0.1500" stop-color="#cbe397"/>
<stop offset="0.1667" stop-color="#c2e08c"/>
<stop offset="0.1833" stop-color="#b9de81"/>
<stop offset="0.2000" stop-color="#b1db76"/>
<stop offset="0.2167" stop-color="#a8d96c"/>
<stop offset="0.2333" stop-color="#9ed764"/>
<stop offset="0.2500" stop-color="#94d55c"/>
<stop offset="0.2667" stop-color="#8ad454"/>
<stop offset="0.2833" stop-color="#81d34d"/>
<stop offset="0.3000" stop-color="#75d054"/>
<stop offset="0.3167" stop-color="#69cd5b"/>
<stop offset="0.3333" stop-color="#5ec962"/>
<stop offset="0.3500" stop-color="#54c568"/>
<stop offset="0.3667" stop-color="#4cc26c"/>
<stop offset="0.3833" stop-color="#42be71"/>
<stop offset="0.4000" stop-color="#3aba76"/>
<stop offset="0.4167" stop-color="#32b67a"/>
<stop offset="0.4333" stop-color="#2cb17e"/>
<stop offset="0.4500" stop-color="#27ad81"/>
<stop offset="0.4667" stop-color="#23a983"/>
<stop offset="0.4833" stop-color="#20a486"/>
<stop offset="0.5000" stop-color="#1fa088"/>
<stop offset="0.5167" stop-color="#1e9b8a"/>
<stop offset="0.5333" stop-color="#1f968b"/>
<stop offset="0.5500" stop-color="#20928c"/>
<stop offset="0.5667" stop-color="#218e8d"/>
<stop offset="0.5833" stop-color="#23898e"/>
<stop offset="0.6000" stop-color="#25848e"/>
<stop offset="0.6167" stop-color="#27808e"/>
<stop offset="0.6333" stop-color="#287c8e"/>
<stop offset="0.6500" stop-color="#2a778e"/>
<stop offset="0.6667" stop-color="#2c728e"/>
<stop offset="0.6833" stop-color="#2e6e8e"/>
<stop offset="0.7000" stop-color="#30698e"/>
<stop offset="0.7167" stop-color="#32648e"/>
<stop offset="0.7333" stop-color="#34608d"/>
<stop offset="0.7500" stop-color="#375b8d"/>
<stop offset="0.7667" stop-color="#39558c"/>
<stop offset="0.7833" stop-color="#3c508b"/>
<stop offset="0.8000" stop-color="#3e4a89"/>
<stop offset="0.8167" stop-color="#404688"/>
<stop offset="0.8333" stop-color="#424086"/>
<stop offset="0.8500" stop-color="#443a83"/>
<stop offset="0.8667" stop-color="#463480"/>
<stop offset="0.8833" stop-color="#472e7c"/>
<stop offset="0.9000" stop-color="#482878"/>
<stop offset="0.9167" stop-color="#482374"/>
<stop offset="0.9333" stop-color="#481c6e"/>
<stop offset="0.9500" stop-color="#481668"/>
<stop offset="0.9667" stop-color="#470e61"/>
<stop offset="0.9833" stop-color="#46075a"/>
<stop offset="1.0000" stop-color="#440154"/>
</linearGradient></defs>
<rect x="566.4" y="190" width="7.2" height="2.5" fill="#440154"/>
<rect x="566.4" y="192" width="7.2" height="144" fill="url(#cb)"/>
<rect x="566.5" y="191.5" width="7.5" height="145" fill="none" stroke="#000" stroke-width="1.11"/>
<path d="M581.3 336.5h4.86M581.3 312.5h4.86M581.3 288.5h4.86M581.3 264.5h4.86M581.3 240.5h4.86M581.3 216.5h4.86M581.3 192.5h4.86" stroke="#000" stroke-width="1.11" fill="none"/>
<text transform="translate(0,341.50) scale(1.0174,1)" x="580.71" y="0" font-size="14.60">0</text>
<text transform="translate(0,317.50) scale(1.0174,1)" x="580.71" y="0" font-size="14.60">5</text>
<text transform="translate(0,293.50) scale(1.0174,1)" x="580.71 589.35" y="0" font-size="14.60">10</text>
<text transform="translate(0,269.50) scale(1.0174,1)" x="580.71 589.35" y="0" font-size="14.60">15</text>
<text transform="translate(0,245.50) scale(1.0174,1)" x="580.71 589.35" y="0" font-size="14.60">20</text>
<text transform="translate(0,221.50) scale(1.0174,1)" x="580.71 589.35" y="0" font-size="14.60">25</text>
<text transform="translate(0,197.50) scale(1.0174,1)" x="580.71 589.35" y="0" font-size="14.60">30</text>
<g transform="translate(624.2,206.5) rotate(-90)">
<text transform="translate(0,0.00) scale(1.0878,1)" x="0.45 4.50 17.47" y="0" font-size="14.60">[%]</text>
</g>
<rect x="96.5" y="379.5" width="448" height="19" fill="#fff"/>
<rect x="116" y="379.2" width="408" height="7.68" fill="#008000"/>
<rect x="116" y="386.88" width="408" height="11.52" fill="#0000ff"/>
<rect x="96.5" y="379.5" width="448" height="19" fill="none" stroke="#000" stroke-width="1.11"/>
<path d="M116.5 398.5v4.86M167.5 398.5v4.86M218.5 398.5v4.86M269.5 398.5v4.86M320.5 398.5v4.86M371.5 398.5v4.86M422.5 398.5v4.86M473.5 398.5v4.86M524.5 398.5v4.86" stroke="#000" stroke-width="1.11" fill="none"/>
<g transform="translate(61.02,448.52) rotate(-30)">
<text transform="translate(0,0.00) scale(1.0771,1)" x="0.02 8.18 16.20 20.96 29.12" y="0" font-size="14.60">02-05</text><text transform="translate(0,0.00) scale(1.0771,1)" x="41.36 49.52" y="0" font-size="14.60">00</text>
</g>
<g transform="translate(112.02,448.52) rotate(-30)">
<text transform="translate(0,0.00) scale(1.0771,1)" x="0.02 8.18 16.20 20.96 29.12" y="0" font-size="14.60">02-05</text><text transform="translate(0,0.00) scale(1.0771,1)" x="41.36 49.52" y="0" font-size="14.60">03</text>
</g>
<g transform="translate(163.02,448.52) rotate(-30)">
<text transform="translate(0,0.00) scale(1.0771,1)" x="0.02 8.18 16.20 20.96 29.12" y="0" font-size="14.60">02-05</text><text transform="translate(0,0.00) scale(1.0771,1)" x="41.36 49.52" y="0" font-size="14.60">06</text>
</g>
<g transform="translate(214.02,448.52) rotate(-30)">
<text transform="translate(0,0.00) scale(1.0771,1)" x="0.02 8.18 16.20 20.96 29.12" y="0" font-size="14.60">02-05</text><text transform="translate(0,0.00) scale(1.0771,1)" x="41.36 49.52" y="0" font-size="14.60">09</text>
</g>
<g transform="translate(265.02,448.52) rotate(-30)">
<text transform="translate(0,0.00) scale(1.0771,1)" x="0.02 8.18 16.20 20.96 29.12" y="0" font-size="14.60">02-05</text><text transform="translate(0,0.00) scale(1.0771,1)" x="41.36 49.52" y="0" font-size="14.60">12</text>
</g>
<g transform="translate(316.02,448.52) rotate(-30)">
<text transform="translate(0,0.00) scale(1.0771,1)" x="0.02 8.18 16.20 20.96 29.12" y="0" font-size="14.60">02-05</text><text transform="translate(0,0.00) scale(1.0771,1)" x="41.36 49.52" y="0" font-size="14.60">15</text>
</g>
<g transform="translate(367.02,448.52) rotate(-30)">
<text transform="translate(0,0.00) scale(1.0771,1)" x="0.02 8.18 16.20 20.96 29.12" y="0" font-size="14.60">02-05</text><text transform="translate(0,0.00) scale(1.0771,1)" x="41.36 49.52" y="0" font-size="14.60">18</text>
</g>
<g transform="translate(418.02,448.52) rotate(-30)">
<text transform="translate(0,0.00) scale(1.0771,1)" x="0.02 8.18 16.20 20.96 29.12" y="0" font-size="14.60">02-05</text><text transform="translate(0,0.00) scale(1.0771,1)" x="41.36 49.52" y="0" font-size="14.60">21</text>
</g>
<g transform="translate(469.02,448.52) rotate(-30)">
<text transform="translate(0,0.00) scale(1.0771,1)" x="0.02 8.18 16.20 20.96 29.12" y="0" font-size="14.60">02-06</text><text transform="translate(0,0.00) scale(1.0771,1)" x="41.36 49.52" y="0" font-size="14.60">00</text>
</g>
</svg>
</body></html>
